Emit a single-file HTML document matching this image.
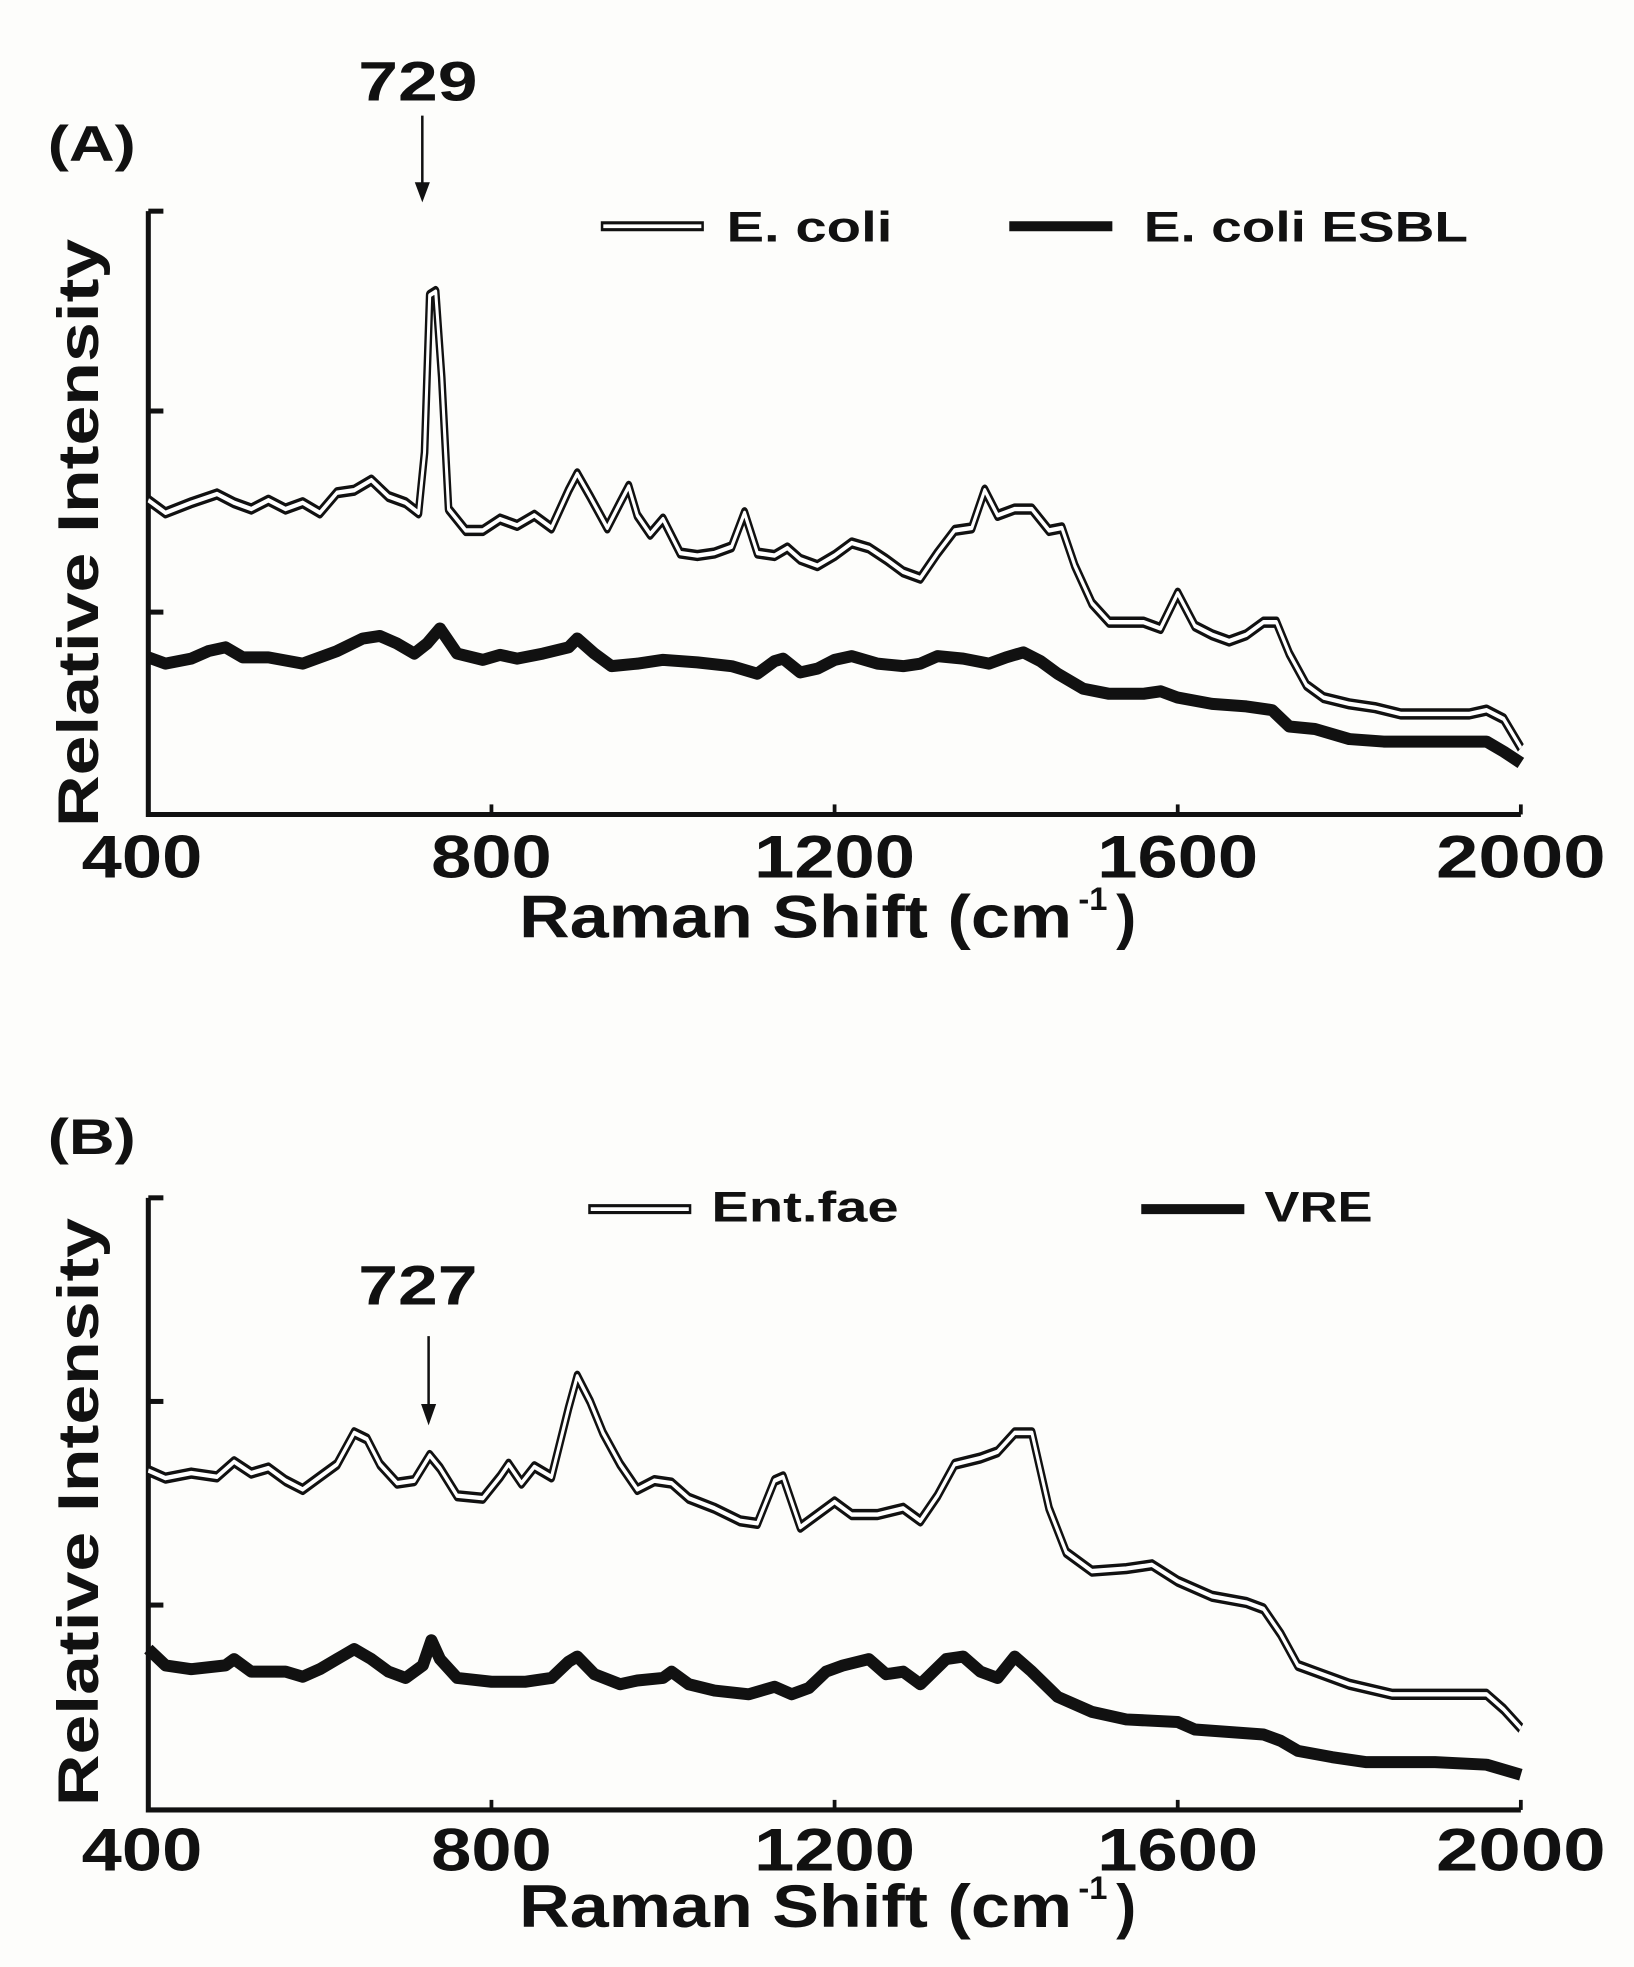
<!DOCTYPE html>
<html><head><meta charset="utf-8"><style>
html,body{margin:0;padding:0;background:#fdfdfb;}
svg{display:block;}
text{font-family:"Liberation Sans",Arial,sans-serif;font-weight:bold;fill:#111;}
</style></head><body>
<svg width="1634" height="1967" viewBox="0 0 1634 1967" xmlns="http://www.w3.org/2000/svg">
<defs>
<path id="ecoli" d="M400,398 L420,408 L450,400 L480,393 L500,400 L520,405 L540,398 L560,405 L580,400 L600,408 L620,392 L640,390 L660,382 L680,395 L700,400 L715,408 L722,360 L728,235 L735,232 L742,300 L750,405 L770,422 L790,422 L810,413 L830,418 L850,410 L870,420 L890,390 L900,377 L915,395 L935,420 L950,400 L960,387 L970,410 L985,425 L1000,413 L1020,440 L1040,442 L1060,440 L1080,435 L1095,408 L1110,440 L1130,442 L1145,436 L1160,445 L1180,450 L1200,442 L1220,432 L1240,436 L1260,445 L1280,455 L1300,460 L1320,440 L1340,422 L1360,420 L1375,390 L1390,410 L1410,405 L1430,405 L1450,422 L1465,420 L1480,450 L1500,480 L1520,495 L1540,495 L1560,495 L1580,500 L1600,472 L1620,498 L1640,505 L1660,510 L1680,505 L1700,495 L1715,495 L1730,520 L1750,545 L1770,555 L1800,560 L1830,563 L1860,568 L1900,568 L1940,568 L1960,565 L1980,572 L2000,595"/>
<path id="ent" d="M400,1170 L420,1176 L450,1172 L480,1175 L500,1163 L520,1172 L540,1168 L560,1178 L580,1185 L600,1175 L620,1165 L640,1140 L655,1145 L670,1165 L690,1180 L710,1178 L728,1158 L740,1168 L760,1190 L790,1192 L810,1175 L820,1165 L835,1180 L850,1167 L870,1175 L890,1120 L900,1095 L915,1115 L930,1140 L950,1165 L970,1185 L990,1178 L1010,1180 L1030,1192 L1060,1200 L1090,1210 L1110,1212 L1130,1178 L1140,1175 L1160,1215 L1180,1205 L1200,1195 L1220,1205 L1250,1205 L1280,1200 L1300,1210 L1320,1190 L1340,1165 L1370,1160 L1390,1155 L1410,1140 L1430,1140 L1450,1200 L1470,1235 L1500,1250 L1540,1248 L1570,1245 L1600,1258 L1640,1270 L1680,1275 L1700,1280 L1720,1300 L1740,1325 L1760,1330 L1800,1340 L1850,1348 L1900,1348 L1960,1348 L1980,1360 L2000,1375"/>
</defs>
<rect width="1634" height="1967" fill="#fdfdfb"/>
<g transform="scale(1.2569)">
<!-- ===== Panel A ===== -->
<text x="38" y="128" font-size="40" textLength="70" lengthAdjust="spacingAndGlyphs">(A)</text>
<text x="285" y="80" font-size="44" textLength="95" lengthAdjust="spacingAndGlyphs">729</text>
<line x1="336" y1="92" x2="336" y2="150" stroke="#111" stroke-width="2"/>
<path d="M330,145 L336,161 L342,145 Z" fill="#111"/>
<path d="M118,168 L118,648 L1210,648" fill="none" stroke="#111" stroke-width="4"/>
<g stroke="#111" stroke-width="4"><line x1="118" y1="168" x2="130" y2="168"/><line x1="118" y1="327" x2="130" y2="327"/><line x1="118" y1="487" x2="130" y2="487"/></g>
<g stroke="#111" stroke-width="3"><line x1="391" y1="648" x2="391" y2="640"/><line x1="664" y1="648" x2="664" y2="640"/><line x1="937" y1="648" x2="937" y2="640"/><line x1="1210" y1="648" x2="1210" y2="640"/></g>
<g font-size="48" text-anchor="middle">
<text x="113" y="698" textLength="96" lengthAdjust="spacingAndGlyphs">400</text>
<text x="391" y="698" textLength="96" lengthAdjust="spacingAndGlyphs">800</text>
<text x="664" y="698" textLength="128" lengthAdjust="spacingAndGlyphs">1200</text>
<text x="937" y="698" textLength="128" lengthAdjust="spacingAndGlyphs">1600</text>
<text x="1210" y="698" textLength="135" lengthAdjust="spacingAndGlyphs">2000</text>
</g>
<text x="413" y="746" font-size="48" textLength="440" lengthAdjust="spacingAndGlyphs">Raman Shift (cm</text>
<text x="858" y="724" font-size="26">-1</text>
<text x="888" y="746" font-size="48">)</text>
<text transform="translate(78,424) rotate(-90)" x="0" y="0" font-size="46" text-anchor="middle" textLength="468" lengthAdjust="spacingAndGlyphs">Relative Intensity</text>
<line x1="478" y1="180" x2="560" y2="180" stroke="#111" stroke-width="8"/>
<line x1="480" y1="180" x2="558" y2="180" stroke="#fff" stroke-width="3"/>
<text x="578" y="192" font-size="34" textLength="132" lengthAdjust="spacingAndGlyphs">E. coli</text>
<line x1="803" y1="180" x2="885" y2="180" stroke="#111" stroke-width="8"/>
<text x="910" y="192" font-size="34" textLength="258" lengthAdjust="spacingAndGlyphs">E. coli ESBL</text>
<g transform="translate(118,0) scale(0.6825,1) translate(-400,0)" fill="none" stroke-linejoin="round">
<use href="#ecoli" stroke="#111" stroke-width="9" vector-effect="non-scaling-stroke" style="vector-effect:non-scaling-stroke"/>
<use href="#ecoli" stroke="#fff" stroke-width="3.5" style="vector-effect:non-scaling-stroke"/>
<path vector-effect="non-scaling-stroke" stroke="#111" stroke-width="12" d="M400,523 L420,528 L450,524 L470,518 L490,515 L510,523 L540,523 L580,528 L620,518 L650,508 L670,506 L690,512 L710,520 L725,512 L740,500 L760,520 L790,525 L810,521 L830,524 L860,520 L890,515 L900,508 L920,520 L940,530 L970,528 L1000,525 L1040,527 L1080,530 L1110,536 L1130,526 L1140,524 L1160,535 L1180,532 L1200,525 L1220,522 L1250,528 L1280,530 L1300,528 L1320,522 L1350,524 L1380,528 L1400,523 L1420,519 L1440,526 L1460,536 L1490,548 L1520,552 L1560,552 L1580,550 L1600,555 L1640,560 L1680,562 L1710,565 L1730,578 L1760,580 L1800,588 L1840,590 L1900,590 L1960,590 L1980,598 L2000,607"/>
</g>

<!-- ===== Panel B ===== -->
<text x="38" y="918" font-size="40" textLength="70" lengthAdjust="spacingAndGlyphs">(B)</text>
<text x="285" y="1038" font-size="44" textLength="95" lengthAdjust="spacingAndGlyphs">727</text>
<line x1="341" y1="1063" x2="341" y2="1122" stroke="#111" stroke-width="2"/>
<path d="M335,1117 L341,1134 L347,1117 Z" fill="#111"/>
<path d="M118,953 L118,1440 L1210,1440" fill="none" stroke="#111" stroke-width="4"/>
<g stroke="#111" stroke-width="4"><line x1="118" y1="953" x2="130" y2="953"/><line x1="118" y1="1115" x2="130" y2="1115"/><line x1="118" y1="1277" x2="130" y2="1277"/></g>
<g stroke="#111" stroke-width="3"><line x1="391" y1="1440" x2="391" y2="1432"/><line x1="664" y1="1440" x2="664" y2="1432"/><line x1="937" y1="1440" x2="937" y2="1432"/><line x1="1210" y1="1440" x2="1210" y2="1432"/></g>
<g font-size="48" text-anchor="middle">
<text x="113" y="1488" textLength="96" lengthAdjust="spacingAndGlyphs">400</text>
<text x="391" y="1488" textLength="96" lengthAdjust="spacingAndGlyphs">800</text>
<text x="664" y="1488" textLength="128" lengthAdjust="spacingAndGlyphs">1200</text>
<text x="937" y="1488" textLength="128" lengthAdjust="spacingAndGlyphs">1600</text>
<text x="1210" y="1488" textLength="135" lengthAdjust="spacingAndGlyphs">2000</text>
</g>
<text x="413" y="1533" font-size="48" textLength="440" lengthAdjust="spacingAndGlyphs">Raman Shift (cm</text>
<text x="858" y="1511" font-size="26">-1</text>
<text x="888" y="1533" font-size="48">)</text>
<text transform="translate(78,1203) rotate(-90)" x="0" y="0" font-size="46" text-anchor="middle" textLength="468" lengthAdjust="spacingAndGlyphs">Relative Intensity</text>
<line x1="468" y1="962" x2="550" y2="962" stroke="#111" stroke-width="8"/>
<line x1="470" y1="962" x2="548" y2="962" stroke="#fff" stroke-width="3"/>
<text x="566" y="972" font-size="34" textLength="149" lengthAdjust="spacingAndGlyphs">Ent.fae</text>
<line x1="908" y1="962" x2="990" y2="962" stroke="#111" stroke-width="8"/>
<text x="1006" y="972" font-size="34" textLength="86" lengthAdjust="spacingAndGlyphs">VRE</text>
<g transform="translate(118,0) scale(0.6825,1) translate(-400,0)" fill="none" stroke-linejoin="round">
<use href="#ent" stroke="#111" stroke-width="9" style="vector-effect:non-scaling-stroke"/>
<use href="#ent" stroke="#fff" stroke-width="3.5" style="vector-effect:non-scaling-stroke"/>
<path vector-effect="non-scaling-stroke" stroke="#111" stroke-width="12" d="M400,1312 L420,1325 L450,1328 L490,1325 L500,1320 L520,1330 L560,1330 L580,1334 L600,1328 L620,1320 L640,1312 L660,1320 L680,1330 L700,1335 L720,1325 L730,1305 L740,1320 L760,1335 L800,1338 L840,1338 L870,1335 L890,1322 L900,1318 L920,1332 L950,1340 L970,1337 L1000,1335 L1010,1330 L1030,1340 L1060,1345 L1100,1348 L1130,1342 L1150,1348 L1170,1343 L1190,1330 L1210,1325 L1240,1320 L1260,1332 L1280,1330 L1300,1340 L1330,1320 L1350,1318 L1370,1330 L1390,1335 L1410,1318 L1430,1330 L1460,1350 L1500,1362 L1540,1368 L1600,1370 L1620,1376 L1660,1378 L1700,1380 L1720,1385 L1740,1393 L1780,1398 L1820,1402 L1900,1402 L1960,1404 L2000,1412"/>
</g>
</g>
</svg>
</body></html>
